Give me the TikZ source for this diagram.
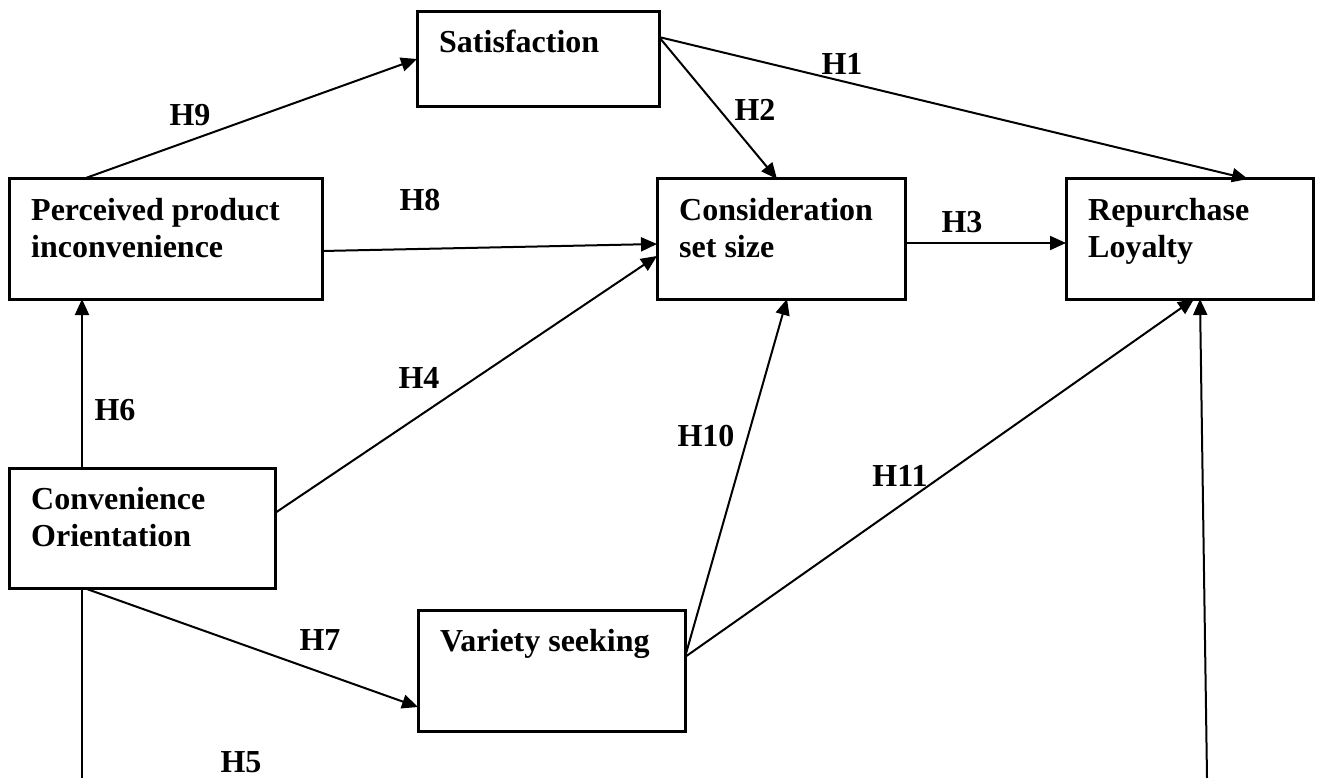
\documentclass[tikz,border=0pt]{standalone}
\usepackage{fontspec}
\setmainfont{Liberation Serif}
\usetikzlibrary{arrows.meta,calc}
\begin{document}
\begin{tikzpicture}
[x=1pt,y=-1pt,
  boxdecorate/.style={shape=rectangle,draw,line width=3pt,anchor=north west,inner sep=0pt,outer sep=0pt},%
  textdecorate/.style={anchor=base west,inner sep=0pt,font=\fontsize{32}{37.5}\selectfont\bfseries},%
  labeldecorate/.style={inner sep=0pt,font=\fontsize{32}{37.5}\selectfont\bfseries},%
  linedecorate/.style={-{Triangle[length=16pt,width=14pt]},line width=2pt},%
  plaindecorate/.style={-,line width=2pt}]
\useasboundingbox (0,0) rectangle (1319,778);
%% boxes with their texts
\foreach \nodename/\x/\y/\w/\h/\words in {
  sat/417/12/242/95/{Satisfaction},
  per/9/179/313/120/{Perceived product\\inconvenience},
  con/657/179/248/120/{Consideration\\set size},
  rep/1066/179/247/120/{Repurchase\\Loyalty},
  cvo/9/468/266/120/{Convenience\\Orientation},
  var/418/610/267/121/{Variety seeking}}
{
  \node (\nodename) at (\x,\y) [boxdecorate,minimum width=\w pt,minimum height=\h pt] {};
  \node (\nodename-t) at ($(\nodename.north west)+(22,41)$) [textdecorate]
    {\begin{tabular}[t]{@{}l@{}}\words\end{tabular}};
}
%% ports on the boxes
\coordinate (per-h9) at ($(per.north west)+(74,0)$);
\coordinate (sat-h9) at ($(sat.north west)+(0,47)$);
\coordinate (sat-out) at ($(sat.north east)+(0,25)$);
\coordinate (rep-h1) at ($(rep.north west)+(182,0)$);
\coordinate (con-h2) at ($(con.north west)+(120,0)$);
\coordinate (per-h8) at ($(per.north east)+(0,72)$);
\coordinate (con-h8) at ($(con.north west)+(0,65)$);
\coordinate (con-h3) at ($(con.north east)+(0,64)$);
\coordinate (rep-h3) at ($(rep.north west)+(0,64)$);
\coordinate (cvo-h4) at ($(cvo.north east)+(0,45)$);
\coordinate (con-h4) at ($(con.north west)+(0,77)$);
\coordinate (cvo-h6) at ($(cvo.north west)+(73,0)$);
\coordinate (per-h6) at ($(per.south west)+(73,0)$);
\coordinate (cvo-h7) at ($(cvo.south west)+(75,0)$);
\coordinate (var-h7) at ($(var.north west)+(0,97)$);
\coordinate (var-out) at ($(var.north east)+(0,47)$);
\coordinate (con-h10) at ($(con.south west)+(130,0)$);
\coordinate (rep-h11) at ($(rep.south west)+(128,0)$);
\coordinate (cvo-h5) at ($(cvo.south west)+(73,0)$);
\coordinate (rep-h5) at ($(rep.south west)+(134,0)$);
\coordinate (h5-left) at (82,778);
\coordinate (h5-right) at (1207,778);
%% arrows
\path
\foreach \startnode/\endnode in {per-h9/sat-h9, sat-out/rep-h1, sat-out/con-h2,
  per-h8/con-h8, con-h3/rep-h3, cvo-h4/con-h4, cvo-h6/per-h6, cvo-h7/var-h7,
  var-out/con-h10, var-out/rep-h11, h5-right/rep-h5} {
  (\startnode) edge[linedecorate] (\endnode)
};
\draw[plaindecorate] (cvo-h5) -- (h5-left);
%% hypothesis labels
\foreach \labelname/\x/\y in {H1/842/64, H2/755/110, H3/962/222, H4/419/378,
  H5/241/762, H6/115/410, H7/320/640, H8/420/200, H9/190/115, H10/706/436, H11/900/476}
{
  \node (\labelname) at (\x,\y) [labeldecorate] {\labelname};
}
\end{tikzpicture}
\end{document}
